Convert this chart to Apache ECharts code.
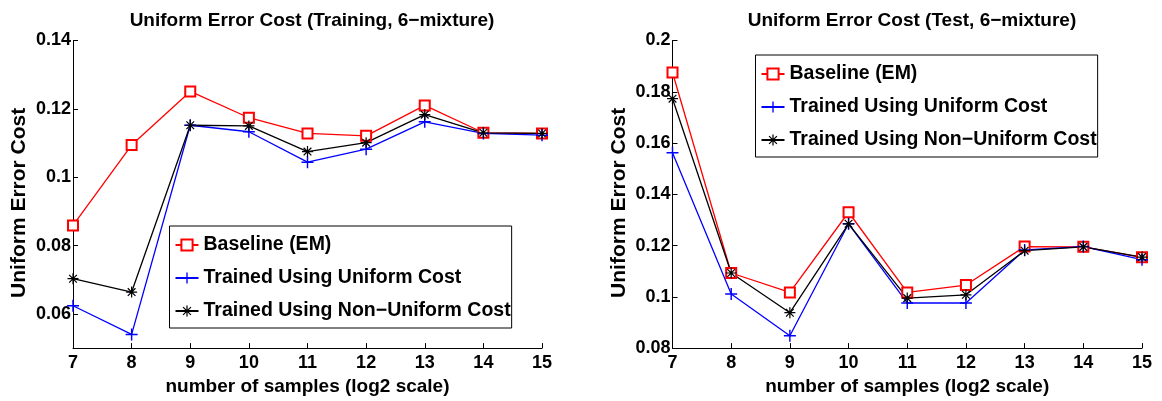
<!DOCTYPE html>
<html>
<head>
<meta charset="utf-8">
<script src="https://cdn.jsdelivr.net/npm/echarts@6/dist/echarts.min.js"></script>
<style>html,body{margin:0;padding:0;background:#fff}#c{width:1162px;height:401px}</style>
</head>
<body>
<div id="c"></div>
<script>
const xValues = [7, 8, 9, 10, 11, 12, 13, 14, 15];
const seriesNames = ['Baseline (EM)', 'Trained Using Uniform Cost', 'Trained Using Non\u2212Uniform Cost'];
const trainBaseline = [0.0859, 0.1094, 0.1251, 0.1174, 0.1128, 0.1121, 0.1210, 0.1130, 0.1128];
const trainUniform = [0.0624, 0.0540, 0.1152, 0.1133, 0.1044, 0.1082, 0.1162, 0.1128, 0.1123];
const trainNonUniform = [0.0703, 0.0664, 0.1152, 0.1150, 0.1075, 0.1101, 0.1183, 0.1130, 0.1128];
const testBaseline = [0.1875, 0.1093, 0.1017, 0.1330, 0.1017, 0.1046, 0.1196, 0.1195, 0.1154];
const testUniform = [0.1562, 0.1011, 0.0848, 0.1285, 0.0976, 0.0976, 0.1183, 0.1196, 0.1145];
const testNonUniform = [0.1773, 0.1093, 0.0938, 0.1285, 0.0995, 0.1008, 0.1180, 0.1195, 0.1155];
const trainYTicks = [0.06, 0.08, 0.10, 0.12, 0.14];
const testYTicks = [0.08, 0.10, 0.12, 0.14, 0.16, 0.18, 0.20];
const titles = ['Uniform Error Cost (Training, 6\u2212mixture)', 'Uniform Error Cost (Test, 6\u2212mixture)'];
const xName = 'number of samples (log2 scale)';
const yName = 'Uniform Error Cost';

const FONT = '"Liberation Sans", Arial, sans-serif';
const plusPath = 'path://M4.4,0H5.6V4.4H10V5.6H5.6V10H4.4V5.6H0V4.4H4.4Z';
const starPath = 'path://M4.45,0H5.55V4.45H10V5.55H5.55V10H4.45V5.55H0V4.45H4.45Z' +
  'M1.89,1.11L8.89,8.11L8.11,8.89L1.11,1.89Z' +
  'M8.11,1.11L8.89,1.89L1.89,8.89L1.11,8.11Z';
const styles = [
  {color: '#ff0000', symbol: 'emptyRect', size: 10, border: 1.3},
  {color: '#0000ff', symbol: plusPath, size: 12, border: 0},
  {color: '#000000', symbol: starPath, size: 11, border: 0}
];
const pair = arr => arr.map((v, i) => [xValues[i], v]);
const fmt = v => String(+(+v).toFixed(2));

function xAxis(gi) {
  return {
    type: 'value', gridIndex: gi, min: 7, max: 15, interval: 1,
    name: xName, nameLocation: 'middle', nameGap: 25,
    nameTextStyle: {fontFamily: FONT, fontWeight: 'bold', fontSize: 19, color: '#000'},
    axisLine: {lineStyle: {color: '#000', width: 1}},
    axisTick: {inside: true, length: 5, lineStyle: {color: '#000'}},
    axisLabel: {fontFamily: FONT, fontWeight: 'bold', fontSize: 18, color: '#000', margin: 6},
    splitLine: {show: false}
  };
}
function yAxis(gi, min, max, ticks) {
  return {
    type: 'value', gridIndex: gi, min: min, max: max,
    name: yName, nameLocation: 'middle', nameGap: 43,
    nameTextStyle: {fontFamily: FONT, fontWeight: 'bold', fontSize: 21, color: '#000', padding: [0, 17, 0, 0]},
    axisLine: {show: true, lineStyle: {color: '#000', width: 1}},
    axisTick: {show: true, inside: true, length: 5, lineStyle: {color: '#000'}, customValues: ticks},
    axisLabel: {fontFamily: FONT, fontWeight: 'bold', fontSize: 18, color: '#000', margin: 2,
      customValues: ticks, formatter: fmt},
    splitLine: {show: false}
  };
}
function mkSeries(gi, arrs) {
  return arrs.map((arr, k) => ({
    name: seriesNames[k], type: 'line', xAxisIndex: gi, yAxisIndex: gi,
    data: pair(arr), symbol: styles[k].symbol, symbolSize: styles[k].size,
    showAllSymbol: true, animation: false,
    lineStyle: {color: styles[k].color, width: 1.3},
    itemStyle: {color: styles[k].color, borderColor: styles[k].color, borderWidth: styles[k].border}
  }));
}
function legend(left, top) {
  return {
    data: seriesNames, orient: 'vertical', left: left, top: top,
    selectedMode: false, itemWidth: 23, itemHeight: 14, itemGap: 13,
    padding: [9, 1, 7, 5],
    borderColor: '#000', borderWidth: 1, backgroundColor: '#fff',
    textStyle: {fontFamily: FONT, fontWeight: 'bold', fontSize: 19.5, lineHeight: 20, color: '#000'}
  };
}

const chart = echarts.init(document.getElementById('c'), null, {renderer: 'canvas'});
chart.setOption({
  animation: false,
  backgroundColor: '#fff',
  title: [
    {text: titles[0], left: 307, top: 6, textAlign: 'center',
      textStyle: {fontFamily: FONT, fontWeight: 'bold', fontSize: 19, color: '#000'}},
    {text: titles[1], left: 907, top: 6, textAlign: 'center',
      textStyle: {fontFamily: FONT, fontWeight: 'bold', fontSize: 19, color: '#000'}}
  ],
  grid: [
    {left: 73, right: 620, top: 40.5, bottom: 48.5},
    {left: 672.5, right: 20, top: 40.5, bottom: 48.5}
  ],
  xAxis: [xAxis(0), xAxis(1)],
  yAxis: [yAxis(0, 0.05, 0.14, trainYTicks), yAxis(1, 0.08, 0.2, testYTicks)],
  legend: [legend(169.5, 226), legend(755.5, 55)],
  series: mkSeries(0, [trainBaseline, trainUniform, trainNonUniform])
    .concat(mkSeries(1, [testBaseline, testUniform, testNonUniform]))
});
</script>
</body>
</html>
